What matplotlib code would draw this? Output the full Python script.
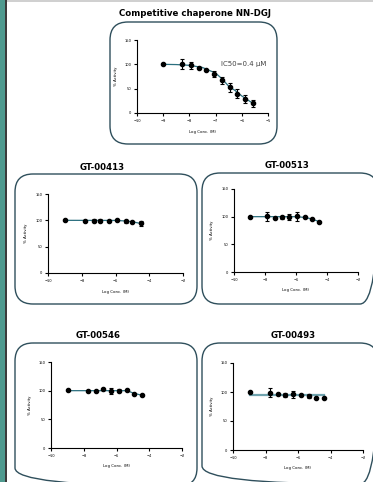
import matplotlib.pyplot as plt
from matplotlib.patches import FancyBboxPatch, Rectangle

plt.rcParams['font.family'] = ['DejaVu Sans']

# NN-DGJ (competitive chaperone)
nn_x = [-9.0, -8.27, -7.95, -7.65, -7.36, -7.05, -6.76, -6.46, -6.17, -5.86, -5.56]
nn_y = [100, 100, 98, 93, 89, 80, 67, 53, 40, 29, 20]
nn_err = [0, 10, 7, 0, 0, 6, 7, 9, 9, 9, 7]
nn_fit_x = [-9.0, -8.5, -8.0, -7.5, -7.0, -6.75, -6.5, -6.25, -6.0, -5.75, -5.55]
nn_fit_y = [100, 99.5, 98, 93.5, 82, 70, 55, 46, 35, 26, 19]

# GT compounds
gt413_x = [-9.0, -7.8, -7.3, -6.9, -6.4, -5.9, -5.4, -5.0, -4.5]
gt413_y = [100.5, 99.5, 99, 99.5, 99.5, 100, 98.5, 97, 94]
gt413_err = [0, 0, 3, 3, 0, 0, 3, 0, 4]
gt413_fit_x = [-9.0, -6.0, -5.4, -5.0, -4.5]
gt413_fit_y = [100, 99.8, 98.8, 97.3, 94]

gt513_x = [-9.0, -7.85, -7.35, -6.9, -6.45, -5.95, -5.4, -5.0, -4.5]
gt513_y = [100, 101, 97, 99, 99, 101, 99, 95, 91]
gt513_err = [0, 8, 0, 3, 5, 8, 0, 0, 0]
gt513_fit_x = [-9.0, -6.0, -5.4, -5.0, -4.5]
gt513_fit_y = [100, 100, 98.5, 96, 91]

gt546_x = [-8.95, -7.77, -7.25, -6.85, -6.35, -5.85, -5.35, -4.95, -4.45]
gt546_y = [101, 99, 99, 103, 100, 100, 101, 94, 92]
gt546_err = [0, 0, 0, 0, 5, 3, 0, 0, 0]
gt546_fit_x = [-8.95, -5.35, -4.95, -4.45]
gt546_fit_y = [100, 100, 95.5, 92]

gt493_x = [-8.93, -7.7, -7.23, -6.82, -6.33, -5.82, -5.32, -4.91, -4.42]
gt493_y = [100, 99, 97, 94.5, 96, 94, 93, 90.5, 89]
gt493_err = [0, 8, 0, 3, 6, 0, 3, 0, 0]
gt493_fit_x = [-8.93, -4.42]
gt493_fit_y = [94.5, 94.5]

W, H = 373, 482
fig = plt.figure(figsize=(W / 100, H / 100), dpi=100)

# page background in pixel units
bg = fig.add_axes([0, 0, 1, 1], zorder=-5)
bg.set_xlim(0, W)
bg.set_ylim(H, 0)
bg.axis('off')
bg.add_patch(Rectangle((0, 0), 5, H, color='#4f9a8f', lw=0))
bg.add_patch(Rectangle((5, 0), 2, H, color='#3c3c3c', lw=0))
bg.add_patch(Rectangle((7, 0), W - 7, 1.5, color='#d0d0d0', lw=0))


def box(x0, y0, x1, y1):
    bg.add_patch(FancyBboxPatch((x0, y0), x1 - x0, y1 - y0,
                                boxstyle='round,pad=0,rounding_size=18',
                                fc='none', ec='#2f4f5c', lw=1.0))


box(110, 22, 277, 144)
box(15, 174, 197, 304)
box(202, 173, 378, 304)
box(15, 343, 197, 486)
box(202, 343, 378, 484)

bg.text(195, 14, 'Competitive chaperone NN-DGJ', ha='center', va='center',
        fontsize=6.2, fontweight='bold')
bg.text(102, 167, 'GT-00413', ha='center', va='center', fontsize=6.2, fontweight='bold')
bg.text(287, 166, 'GT-00513', ha='center', va='center', fontsize=6.2, fontweight='bold')
bg.text(98, 335, 'GT-00546', ha='center', va='center', fontsize=6.2, fontweight='bold')
bg.text(293, 335, 'GT-00493', ha='center', va='center', fontsize=6.2, fontweight='bold')


def panel(rect, xlim, xticks, x, y, err, fx, fy, curve_color='#2b6f7f', curve_lw=0.9):
    ax = fig.add_axes(rect)
    ax.patch.set_alpha(0)
    ax.plot(fx, fy, color=curve_color, lw=curve_lw, zorder=2)
    ax.errorbar(x, y, yerr=err, fmt='o', color='black', ms=3, elinewidth=0.8,
                capsize=1.3, capthick=0.8, zorder=3)
    ax.set_xlim(*xlim)
    ax.set_ylim(0, 150)
    ax.set_xticks(xticks)
    ax.set_yticks([0, 50, 100, 150])
    for s in ['top', 'right']:
        ax.spines[s].set_visible(False)
    for s in ['left', 'bottom']:
        ax.spines[s].set_linewidth(0.8)
    ax.tick_params(labelsize=2.6, length=2, width=0.8, pad=2)
    ax.set_xlabel('Log Conc. (M)', fontsize=2.8, labelpad=5)
    ax.set_ylabel('% Activity', fontsize=2.8, labelpad=5)
    return ax


ax = panel([137 / W, 1 - 113 / H, 131 / W, 73 / H], (-10, -5), [-10, -9, -8, -7, -6, -5],
           nn_x, nn_y, nn_err, nn_fit_x, nn_fit_y)
ax.text(-6.8, 100, 'IC50=0.4 µM', fontsize=5, color='#444444', va='center')

panel([48 / W, 1 - 273 / H, 135 / W, 79 / H], (-10, -2), [-10, -8, -6, -4, -2],
      gt413_x, gt413_y, gt413_err, gt413_fit_x, gt413_fit_y)
panel([234 / W, 1 - 272 / H, 124 / W, 83 / H], (-10, -2), [-10, -8, -6, -4, -2],
      gt513_x, gt513_y, gt513_err, gt513_fit_x, gt513_fit_y)
panel([51 / W, 1 - 448 / H, 131 / W, 86 / H], (-10, -2), [-10, -8, -6, -4, -2],
      gt546_x, gt546_y, gt546_err, gt546_fit_x, gt546_fit_y)
panel([233 / W, 1 - 450 / H, 130 / W, 87 / H], (-10, -2), [-10, -8, -6, -4, -2],
      gt493_x, gt493_y, gt493_err, gt493_fit_x, gt493_fit_y,
      curve_color='#6fa3ae', curve_lw=1.6)

fig.savefig('out.png', dpi=100)
